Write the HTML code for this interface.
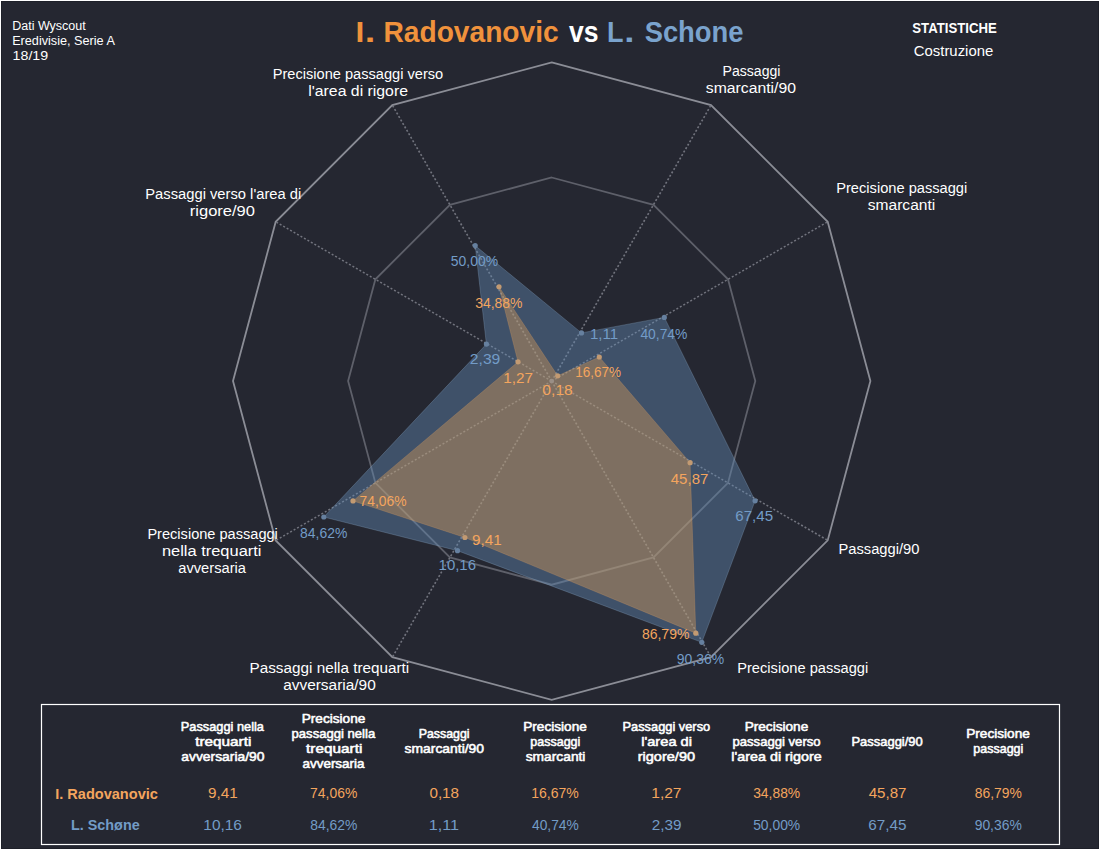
<!DOCTYPE html>
<html><head><meta charset="utf-8"><title>Radar</title>
<style>
html,body{margin:0;padding:0;background:#fff;}
body{width:1101px;height:851px;position:relative;overflow:hidden;font-family:"Liberation Sans",sans-serif;}
#bg{position:absolute;left:1px;top:1px;width:1098px;height:848px;background:#252731;box-sizing:border-box;border:1px solid #1e2029;}
</style></head><body><div id="bg"></div>
<svg width="1101" height="851" viewBox="0 0 1101 851" style="position:absolute;left:0;top:0">
<polygon points="551.7,62.4 711.0,105.1 827.7,221.8 870.4,381.1 827.7,540.4 711.0,657.1 551.7,699.8 392.4,657.1 275.7,540.5 233.0,381.1 275.7,221.8 392.3,105.1" fill="none" stroke="#8b8d96" stroke-width="1.8"/>
<polygon points="551.7,177.5 653.5,204.8 728.0,279.3 755.3,381.1 728.0,482.9 653.5,557.4 551.7,584.7 449.9,557.4 375.4,482.9 348.1,381.1 375.4,279.3 449.9,204.8" fill="none" stroke="#5e606a" stroke-width="1.8"/>
<line x1="551.7" y1="381.1" x2="711.0" y2="105.1" stroke="#72747e" stroke-width="1.6" stroke-dasharray="2,2"/>
<line x1="551.7" y1="381.1" x2="827.7" y2="221.8" stroke="#72747e" stroke-width="1.6" stroke-dasharray="2,2"/>
<line x1="551.7" y1="381.1" x2="827.7" y2="540.4" stroke="#72747e" stroke-width="1.6" stroke-dasharray="2,2"/>
<line x1="551.7" y1="381.1" x2="711.0" y2="657.1" stroke="#72747e" stroke-width="1.6" stroke-dasharray="2,2"/>
<line x1="551.7" y1="381.1" x2="392.4" y2="657.1" stroke="#72747e" stroke-width="1.6" stroke-dasharray="2,2"/>
<line x1="551.7" y1="381.1" x2="275.7" y2="540.5" stroke="#72747e" stroke-width="1.6" stroke-dasharray="2,2"/>
<line x1="551.7" y1="381.1" x2="275.7" y2="221.8" stroke="#72747e" stroke-width="1.6" stroke-dasharray="2,2"/>
<line x1="551.7" y1="381.1" x2="392.3" y2="105.1" stroke="#72747e" stroke-width="1.6" stroke-dasharray="2,2"/>
<polygon points="581.5,332.9 664.3,317.4 755.1,500.8 701.8,642.3 457.5,550.7 323.8,517.0 486.4,344.1 475.2,245.6" fill="rgba(101,141,184,0.42)" stroke="rgba(140,170,200,0.30)" stroke-width="1" stroke-linejoin="round"/>
<polygon points="557.7,375.8 599.3,357.0 690.1,462.7 695.8,633.2 464.9,537.5 353.0,500.9 518.0,361.8 499.0,286.8" fill="rgba(239,166,84,0.36)" stroke="rgba(240,170,100,0.22)" stroke-width="1" stroke-linejoin="round"/>
<circle cx="551.7" cy="381.1" r="2.4" fill="#9a8f86"/>
<circle cx="581.5" cy="332.9" r="2.6" fill="#66809f"/>
<circle cx="664.3" cy="317.4" r="2.6" fill="#66809f"/>
<circle cx="755.1" cy="500.8" r="2.6" fill="#66809f"/>
<circle cx="701.8" cy="642.3" r="2.6" fill="#66809f"/>
<circle cx="457.5" cy="550.7" r="2.6" fill="#66809f"/>
<circle cx="323.8" cy="517.0" r="2.6" fill="#66809f"/>
<circle cx="486.4" cy="344.1" r="2.6" fill="#66809f"/>
<circle cx="475.2" cy="245.6" r="2.6" fill="#66809f"/>
<circle cx="557.7" cy="375.8" r="2.6" fill="#c29a72"/>
<circle cx="599.3" cy="357.0" r="2.6" fill="#c29a72"/>
<circle cx="690.1" cy="462.7" r="2.6" fill="#c29a72"/>
<circle cx="695.8" cy="633.2" r="2.6" fill="#c29a72"/>
<circle cx="464.9" cy="537.5" r="2.6" fill="#c29a72"/>
<circle cx="353.0" cy="500.9" r="2.6" fill="#c29a72"/>
<circle cx="518.0" cy="361.8" r="2.6" fill="#c29a72"/>
<circle cx="499.0" cy="286.8" r="2.6" fill="#c29a72"/>
<text x="355.61" y="42.2" font-size="29" fill="#f0923c" font-weight="bold" textLength="8.81" lengthAdjust="spacingAndGlyphs" font-family="Liberation Sans, sans-serif">I</text>
<text x="364.85" y="42.2" font-size="29" fill="#f0923c" font-weight="bold" textLength="10.57" lengthAdjust="spacingAndGlyphs" font-family="Liberation Sans, sans-serif">.</text>
<text x="383.44" y="42.2" font-size="29" fill="#f0923c" font-weight="bold" textLength="175.28" lengthAdjust="spacingAndGlyphs" font-family="Liberation Sans, sans-serif">Radovanovic</text>
<text x="568.92" y="42.2" font-size="29" fill="#fff" font-weight="bold" textLength="29.55" lengthAdjust="spacingAndGlyphs" font-family="Liberation Sans, sans-serif">vs</text>
<text x="606.92" y="42.2" font-size="29" fill="#7aa3cd" font-weight="bold" textLength="16.49" lengthAdjust="spacingAndGlyphs" font-family="Liberation Sans, sans-serif">L</text>
<text x="624.15" y="42.2" font-size="29" fill="#7aa3cd" font-weight="bold" textLength="10.17" lengthAdjust="spacingAndGlyphs" font-family="Liberation Sans, sans-serif">.</text>
<text x="644.63" y="42.2" font-size="29" fill="#7aa3cd" font-weight="bold" textLength="98.89" lengthAdjust="spacingAndGlyphs" font-family="Liberation Sans, sans-serif">Schone</text>
<text x="12.17" y="30.0" font-size="12" fill="#fff" font-weight="normal" textLength="73.61" lengthAdjust="spacingAndGlyphs" font-family="Liberation Sans, sans-serif">Dati Wyscout</text>
<text x="12.16" y="45.0" font-size="12" fill="#fff" font-weight="normal" textLength="102.76" lengthAdjust="spacingAndGlyphs" font-family="Liberation Sans, sans-serif">Eredivisie, Serie A</text>
<text x="12.62" y="60.0" font-size="12" fill="#fff" font-weight="normal" textLength="35.55" lengthAdjust="spacingAndGlyphs" font-family="Liberation Sans, sans-serif">18/19</text>
<text x="912.33" y="32.8" font-size="14.3" fill="#fff" font-weight="bold" textLength="84.39" lengthAdjust="spacingAndGlyphs" font-family="Liberation Sans, sans-serif">STATISTICHE</text>
<text x="913.76" y="55.5" font-size="14" fill="#fff" font-weight="normal" textLength="79.50" lengthAdjust="spacingAndGlyphs" font-family="Liberation Sans, sans-serif">Costruzione</text>
<text x="272.70" y="79.0" font-size="14.67" fill="#fff" font-weight="normal" textLength="170.50" lengthAdjust="spacingAndGlyphs" font-family="Liberation Sans, sans-serif">Precisione passaggi verso</text>
<text x="308.24" y="96.0" font-size="14.67" fill="#fff" font-weight="normal" textLength="99.76" lengthAdjust="spacingAndGlyphs" font-family="Liberation Sans, sans-serif">l'area di rigore</text>
<text x="145.29" y="198.5" font-size="14.67" fill="#fff" font-weight="normal" textLength="156.00" lengthAdjust="spacingAndGlyphs" font-family="Liberation Sans, sans-serif">Passaggi verso l'area di</text>
<text x="189.81" y="215.7" font-size="14.67" fill="#fff" font-weight="normal" textLength="65.22" lengthAdjust="spacingAndGlyphs" font-family="Liberation Sans, sans-serif">rigore/90</text>
<text x="722.55" y="75.8" font-size="14.67" fill="#fff" font-weight="normal" textLength="57.89" lengthAdjust="spacingAndGlyphs" font-family="Liberation Sans, sans-serif">Passaggi</text>
<text x="705.87" y="93.4" font-size="14.67" fill="#fff" font-weight="normal" textLength="90.13" lengthAdjust="spacingAndGlyphs" font-family="Liberation Sans, sans-serif">smarcanti/90</text>
<text x="836.20" y="193.0" font-size="14.67" fill="#fff" font-weight="normal" textLength="131.08" lengthAdjust="spacingAndGlyphs" font-family="Liberation Sans, sans-serif">Precisione passaggi</text>
<text x="867.78" y="210.2" font-size="14.67" fill="#fff" font-weight="normal" textLength="67.47" lengthAdjust="spacingAndGlyphs" font-family="Liberation Sans, sans-serif">smarcanti</text>
<text x="838.49" y="553.6" font-size="14.67" fill="#fff" font-weight="normal" textLength="80.96" lengthAdjust="spacingAndGlyphs" font-family="Liberation Sans, sans-serif">Passaggi/90</text>
<text x="737.20" y="672.9" font-size="14.67" fill="#fff" font-weight="normal" textLength="131.08" lengthAdjust="spacingAndGlyphs" font-family="Liberation Sans, sans-serif">Precisione passaggi</text>
<text x="147.40" y="539.0" font-size="14.67" fill="#fff" font-weight="normal" textLength="130.47" lengthAdjust="spacingAndGlyphs" font-family="Liberation Sans, sans-serif">Precisione passaggi</text>
<text x="161.92" y="556.2" font-size="14.67" fill="#fff" font-weight="normal" textLength="99.59" lengthAdjust="spacingAndGlyphs" font-family="Liberation Sans, sans-serif">nella trequarti</text>
<text x="178.28" y="573.4" font-size="14.67" fill="#fff" font-weight="normal" textLength="67.70" lengthAdjust="spacingAndGlyphs" font-family="Liberation Sans, sans-serif">avversaria</text>
<text x="249.55" y="672.9" font-size="14.67" fill="#fff" font-weight="normal" textLength="159.67" lengthAdjust="spacingAndGlyphs" font-family="Liberation Sans, sans-serif">Passaggi nella trequarti</text>
<text x="283.15" y="689.8" font-size="14.67" fill="#fff" font-weight="normal" textLength="92.63" lengthAdjust="spacingAndGlyphs" font-family="Liberation Sans, sans-serif">avversaria/90</text>
<text x="450.84" y="265.7" font-size="14.67" fill="#739cc7" font-weight="normal" textLength="47.25" lengthAdjust="spacingAndGlyphs" font-family="Liberation Sans, sans-serif">50,00%</text>
<text x="475.17" y="307.8" font-size="14.67" fill="#f4a55e" font-weight="normal" textLength="47.33" lengthAdjust="spacingAndGlyphs" font-family="Liberation Sans, sans-serif">34,88%</text>
<text x="469.82" y="363.5" font-size="14.67" fill="#739cc7" font-weight="normal" textLength="30.53" lengthAdjust="spacingAndGlyphs" font-family="Liberation Sans, sans-serif">2,39</text>
<text x="503.24" y="383.0" font-size="14.67" fill="#f4a55e" font-weight="normal" textLength="29.73" lengthAdjust="spacingAndGlyphs" font-family="Liberation Sans, sans-serif">1,27</text>
<text x="542.29" y="394.6" font-size="14.67" fill="#f4a55e" font-weight="normal" textLength="30.59" lengthAdjust="spacingAndGlyphs" font-family="Liberation Sans, sans-serif">0,18</text>
<text x="589.96" y="338.6" font-size="14.67" fill="#739cc7" font-weight="normal" textLength="28.17" lengthAdjust="spacingAndGlyphs" font-family="Liberation Sans, sans-serif">1,11</text>
<text x="640.40" y="338.8" font-size="14.67" fill="#739cc7" font-weight="normal" textLength="47.00" lengthAdjust="spacingAndGlyphs" font-family="Liberation Sans, sans-serif">40,74%</text>
<text x="575.27" y="376.5" font-size="14.67" fill="#f4a55e" font-weight="normal" textLength="45.81" lengthAdjust="spacingAndGlyphs" font-family="Liberation Sans, sans-serif">16,67%</text>
<text x="359.49" y="506.2" font-size="14.67" fill="#f4a55e" font-weight="normal" textLength="47.00" lengthAdjust="spacingAndGlyphs" font-family="Liberation Sans, sans-serif">74,06%</text>
<text x="300.10" y="537.6" font-size="14.67" fill="#739cc7" font-weight="normal" textLength="47.19" lengthAdjust="spacingAndGlyphs" font-family="Liberation Sans, sans-serif">84,62%</text>
<text x="471.90" y="544.5" font-size="14.67" fill="#f4a55e" font-weight="normal" textLength="29.74" lengthAdjust="spacingAndGlyphs" font-family="Liberation Sans, sans-serif">9,41</text>
<text x="438.56" y="570.4" font-size="14.67" fill="#739cc7" font-weight="normal" textLength="37.49" lengthAdjust="spacingAndGlyphs" font-family="Liberation Sans, sans-serif">10,16</text>
<text x="670.77" y="483.8" font-size="14.67" fill="#f4a55e" font-weight="normal" textLength="37.59" lengthAdjust="spacingAndGlyphs" font-family="Liberation Sans, sans-serif">45,87</text>
<text x="735.24" y="520.6" font-size="14.67" fill="#739cc7" font-weight="normal" textLength="37.88" lengthAdjust="spacingAndGlyphs" font-family="Liberation Sans, sans-serif">67,45</text>
<text x="641.90" y="638.8" font-size="14.67" fill="#f4a55e" font-weight="normal" textLength="47.50" lengthAdjust="spacingAndGlyphs" font-family="Liberation Sans, sans-serif">86,79%</text>
<text x="676.76" y="663.6" font-size="14.67" fill="#739cc7" font-weight="normal" textLength="47.34" lengthAdjust="spacingAndGlyphs" font-family="Liberation Sans, sans-serif">90,36%</text>
<rect x="41.5" y="704.5" width="1018" height="140" fill="none" stroke="#fff" stroke-width="1.2"/>
<text x="180.83" y="730.6" font-size="12.67" fill="#fff" font-weight="normal" textLength="83.09" lengthAdjust="spacingAndGlyphs" stroke="#fff" stroke-width="0.55" stroke-linejoin="round" font-family="Liberation Sans, sans-serif">Passaggi nella</text>
<text x="195.20" y="745.6" font-size="12.67" fill="#fff" font-weight="normal" textLength="56.21" lengthAdjust="spacingAndGlyphs" stroke="#fff" stroke-width="0.55" stroke-linejoin="round" font-family="Liberation Sans, sans-serif">trequarti</text>
<text x="181.29" y="760.6" font-size="12.67" fill="#fff" font-weight="normal" textLength="83.16" lengthAdjust="spacingAndGlyphs" stroke="#fff" stroke-width="0.55" stroke-linejoin="round" font-family="Liberation Sans, sans-serif">avversaria/90</text>
<text x="301.76" y="723.1" font-size="12.67" fill="#fff" font-weight="normal" textLength="63.57" lengthAdjust="spacingAndGlyphs" stroke="#fff" stroke-width="0.55" stroke-linejoin="round" font-family="Liberation Sans, sans-serif">Precisione</text>
<text x="291.59" y="738.1" font-size="12.67" fill="#fff" font-weight="normal" textLength="83.58" lengthAdjust="spacingAndGlyphs" stroke="#fff" stroke-width="0.55" stroke-linejoin="round" font-family="Liberation Sans, sans-serif">passaggi nella</text>
<text x="306.10" y="753.1" font-size="12.67" fill="#fff" font-weight="normal" textLength="56.21" lengthAdjust="spacingAndGlyphs" stroke="#fff" stroke-width="0.55" stroke-linejoin="round" font-family="Liberation Sans, sans-serif">trequarti</text>
<text x="302.41" y="768.1" font-size="12.67" fill="#fff" font-weight="normal" textLength="62.20" lengthAdjust="spacingAndGlyphs" stroke="#fff" stroke-width="0.55" stroke-linejoin="round" font-family="Liberation Sans, sans-serif">avversaria</text>
<text x="418.66" y="738.1" font-size="12.67" fill="#fff" font-weight="normal" textLength="50.89" lengthAdjust="spacingAndGlyphs" stroke="#fff" stroke-width="0.55" stroke-linejoin="round" font-family="Liberation Sans, sans-serif">Passaggi</text>
<text x="404.55" y="753.1" font-size="12.67" fill="#fff" font-weight="normal" textLength="79.46" lengthAdjust="spacingAndGlyphs" stroke="#fff" stroke-width="0.55" stroke-linejoin="round" font-family="Liberation Sans, sans-serif">smarcanti/90</text>
<text x="523.26" y="730.6" font-size="12.67" fill="#fff" font-weight="normal" textLength="63.57" lengthAdjust="spacingAndGlyphs" stroke="#fff" stroke-width="0.55" stroke-linejoin="round" font-family="Liberation Sans, sans-serif">Precisione</text>
<text x="530.33" y="745.6" font-size="12.67" fill="#fff" font-weight="normal" textLength="49.99" lengthAdjust="spacingAndGlyphs" stroke="#fff" stroke-width="0.55" stroke-linejoin="round" font-family="Liberation Sans, sans-serif">passaggi</text>
<text x="525.70" y="760.6" font-size="12.67" fill="#fff" font-weight="normal" textLength="59.75" lengthAdjust="spacingAndGlyphs" stroke="#fff" stroke-width="0.55" stroke-linejoin="round" font-family="Liberation Sans, sans-serif">smarcanti</text>
<text x="622.47" y="730.6" font-size="12.67" fill="#fff" font-weight="normal" textLength="87.73" lengthAdjust="spacingAndGlyphs" stroke="#fff" stroke-width="0.55" stroke-linejoin="round" font-family="Liberation Sans, sans-serif">Passaggi verso</text>
<text x="641.19" y="745.6" font-size="12.67" fill="#fff" font-weight="normal" textLength="50.81" lengthAdjust="spacingAndGlyphs" stroke="#fff" stroke-width="0.55" stroke-linejoin="round" font-family="Liberation Sans, sans-serif">l'area di</text>
<text x="637.72" y="760.6" font-size="12.67" fill="#fff" font-weight="normal" textLength="57.36" lengthAdjust="spacingAndGlyphs" stroke="#fff" stroke-width="0.55" stroke-linejoin="round" font-family="Liberation Sans, sans-serif">rigore/90</text>
<text x="744.66" y="730.6" font-size="12.67" fill="#fff" font-weight="normal" textLength="63.57" lengthAdjust="spacingAndGlyphs" stroke="#fff" stroke-width="0.55" stroke-linejoin="round" font-family="Liberation Sans, sans-serif">Precisione</text>
<text x="732.49" y="745.6" font-size="12.67" fill="#fff" font-weight="normal" textLength="88.13" lengthAdjust="spacingAndGlyphs" stroke="#fff" stroke-width="0.55" stroke-linejoin="round" font-family="Liberation Sans, sans-serif">passaggi verso</text>
<text x="731.36" y="760.6" font-size="12.67" fill="#fff" font-weight="normal" textLength="90.34" lengthAdjust="spacingAndGlyphs" stroke="#fff" stroke-width="0.55" stroke-linejoin="round" font-family="Liberation Sans, sans-serif">l'area di rigore</text>
<text x="851.46" y="745.6" font-size="12.67" fill="#fff" font-weight="normal" textLength="71.30" lengthAdjust="spacingAndGlyphs" stroke="#fff" stroke-width="0.55" stroke-linejoin="round" font-family="Liberation Sans, sans-serif">Passaggi/90</text>
<text x="966.26" y="738.1" font-size="12.67" fill="#fff" font-weight="normal" textLength="63.57" lengthAdjust="spacingAndGlyphs" stroke="#fff" stroke-width="0.55" stroke-linejoin="round" font-family="Liberation Sans, sans-serif">Precisione</text>
<text x="973.33" y="753.1" font-size="12.67" fill="#fff" font-weight="normal" textLength="49.99" lengthAdjust="spacingAndGlyphs" stroke="#fff" stroke-width="0.55" stroke-linejoin="round" font-family="Liberation Sans, sans-serif">passaggi</text>
<text x="208.05" y="798.2" font-size="14.67" fill="#f4a55e" font-weight="normal" textLength="29.74" lengthAdjust="spacingAndGlyphs" font-family="Liberation Sans, sans-serif">9,41</text>
<text x="203.33" y="830.0" font-size="14.67" fill="#739cc7" font-weight="normal" textLength="38.64" lengthAdjust="spacingAndGlyphs" font-family="Liberation Sans, sans-serif">10,16</text>
<text x="310.09" y="798.2" font-size="14.67" fill="#f4a55e" font-weight="normal" textLength="47.21" lengthAdjust="spacingAndGlyphs" font-family="Liberation Sans, sans-serif">74,06%</text>
<text x="310.20" y="830.0" font-size="14.67" fill="#739cc7" font-weight="normal" textLength="47.09" lengthAdjust="spacingAndGlyphs" font-family="Liberation Sans, sans-serif">84,62%</text>
<text x="429.46" y="798.2" font-size="14.67" fill="#f4a55e" font-weight="normal" textLength="29.55" lengthAdjust="spacingAndGlyphs" font-family="Liberation Sans, sans-serif">0,18</text>
<text x="428.82" y="830.0" font-size="14.67" fill="#739cc7" font-weight="normal" textLength="30.31" lengthAdjust="spacingAndGlyphs" font-family="Liberation Sans, sans-serif">1,11</text>
<text x="531.23" y="798.2" font-size="14.67" fill="#f4a55e" font-weight="normal" textLength="47.57" lengthAdjust="spacingAndGlyphs" font-family="Liberation Sans, sans-serif">16,67%</text>
<text x="532.00" y="830.0" font-size="14.67" fill="#739cc7" font-weight="normal" textLength="46.79" lengthAdjust="spacingAndGlyphs" font-family="Liberation Sans, sans-serif">40,74%</text>
<text x="651.27" y="798.2" font-size="14.67" fill="#f4a55e" font-weight="normal" textLength="30.26" lengthAdjust="spacingAndGlyphs" font-family="Liberation Sans, sans-serif">1,27</text>
<text x="651.68" y="830.0" font-size="14.67" fill="#739cc7" font-weight="normal" textLength="29.79" lengthAdjust="spacingAndGlyphs" font-family="Liberation Sans, sans-serif">2,39</text>
<text x="753.17" y="798.2" font-size="14.67" fill="#f4a55e" font-weight="normal" textLength="47.02" lengthAdjust="spacingAndGlyphs" font-family="Liberation Sans, sans-serif">34,88%</text>
<text x="753.15" y="830.0" font-size="14.67" fill="#739cc7" font-weight="normal" textLength="47.05" lengthAdjust="spacingAndGlyphs" font-family="Liberation Sans, sans-serif">50,00%</text>
<text x="868.67" y="798.2" font-size="14.67" fill="#f4a55e" font-weight="normal" textLength="37.90" lengthAdjust="spacingAndGlyphs" font-family="Liberation Sans, sans-serif">45,87</text>
<text x="868.24" y="830.0" font-size="14.67" fill="#739cc7" font-weight="normal" textLength="38.20" lengthAdjust="spacingAndGlyphs" font-family="Liberation Sans, sans-serif">67,45</text>
<text x="974.70" y="798.2" font-size="14.67" fill="#f4a55e" font-weight="normal" textLength="47.09" lengthAdjust="spacingAndGlyphs" font-family="Liberation Sans, sans-serif">86,79%</text>
<text x="974.66" y="830.0" font-size="14.67" fill="#739cc7" font-weight="normal" textLength="47.13" lengthAdjust="spacingAndGlyphs" font-family="Liberation Sans, sans-serif">90,36%</text>
<text x="55.14" y="798.5" font-size="14.7" fill="#f4a55e" font-weight="bold" textLength="102.79" lengthAdjust="spacingAndGlyphs" font-family="Liberation Sans, sans-serif">I. Radovanovic</text>
<text x="70.95" y="829.8" font-size="14.7" fill="#739cc7" font-weight="bold" textLength="68.74" lengthAdjust="spacingAndGlyphs" font-family="Liberation Sans, sans-serif">L. Schøne</text>
</svg>
</body></html>
